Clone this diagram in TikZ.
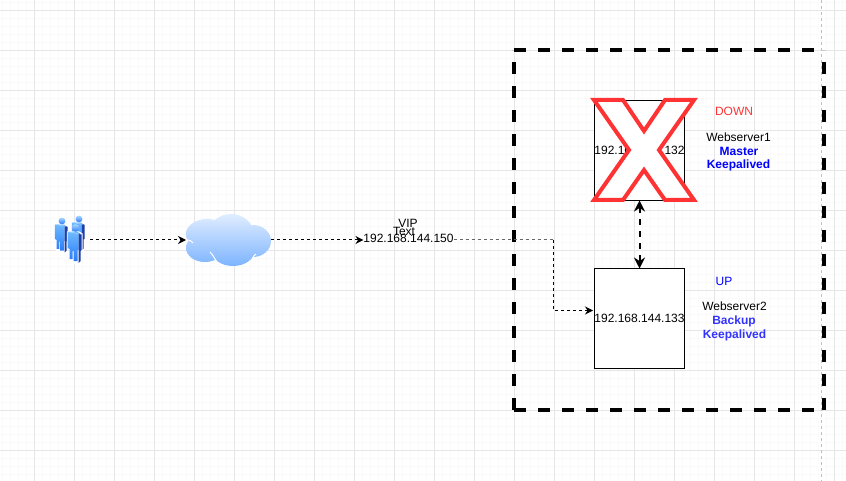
\documentclass[tikz,border=0pt]{standalone}
\usepackage{fontspec}
\setmainfont{Liberation Sans}
\usetikzlibrary{arrows.meta}
\definecolor{gridminor}{HTML}{FAFAFA}
\definecolor{gridmajor}{HTML}{E6E6E6}
\definecolor{downred}{HTML}{FF3333}
\definecolor{upblue}{HTML}{3333FF}
\definecolor{cloudtop}{HTML}{E0EDFF}
\definecolor{cloudbot}{HTML}{7DB4FF}
\definecolor{bodylight}{HTML}{6DB9FF}
\definecolor{bodymid}{HTML}{2A7CFA}
\definecolor{bodydark}{HTML}{1C3FA8}
\tikzset{
  lbl/.style={inner sep=0, outer sep=0, font=\fontsize{12}{14}\selectfont},
  serverbox/.style={draw, line width=1pt, fill=white, minimum width=90pt, minimum height=100pt, inner sep=0, outer sep=0, font=\fontsize{12}{14}\selectfont},
  link/.style={line width=1pt, dash pattern=on 3pt off 3pt, -{Stealth[length=8pt, width=8pt]}},
  person/.pic={
    \fill [white] (-8.7, 3.3) -- (3.5, 3.3) -- (7, 5.5) -- (7, 23) -- (5.7, 24) -- (5.7, 36) -- (-2, 36) -- (-6.5, 33) -- (-6.5, 22) -- (-8.7, 20) -- cycle;
    \shade [top color=bodylight, bottom color=bodymid] (-8, 4) -- (3, 4) -- (3, 22) -- (2, 22) -- (2, 33) -- (-2, 33) -- (-2, 23) -- (-3, 23) -- (-3, 31) -- (-6, 31) -- (-6, 21) -- (-8, 20) -- cycle;
    \fill [bodydark] (3, 5) -- (6.2, 6.5) -- (6.2, 22) -- (5, 23) -- (5, 33) -- (3, 35) -- (3, 22) -- cycle;
    \fill [bodylight!60!white] (-8, 4) -- (-5, 3.6) -- (6.2, 6.5) -- (3, 6) -- cycle;
    \shade [top color=bodylight!60!white, bottom color=bodymid] (0, 0) circle [radius=3.8];
  }
}
\begin{document}
\begin{tikzpicture}[x=1pt, y=-1pt]
  \useasboundingbox (0, 0) rectangle (846, 481);
  \fill [white] (0, 0) rectangle (846, 481);

  % grid
  \foreach \x in {2.5, 10.5, ..., 842.5} \draw [gridminor, line width=1pt] (\x, 0) -- (\x, 481);
  \foreach \y in {2.5, 10.5, ..., 478.5} \draw [gridminor, line width=1pt] (0, \y) -- (846, \y);
  \foreach \x in {34.5, 74.5, ..., 834.5} \draw [gridmajor, line width=1pt] (\x, 0) -- (\x, 481);
  \foreach \y in {10.5, 50.5, ..., 450.5} \draw [gridmajor, line width=1pt] (0, \y) -- (846, \y);
  \draw [black!25, line width=1pt, dash pattern=on 3pt off 3pt] (821.5, 0) -- (821.5, 481);

  % users
  \pic [scale=0.9] at (79, 219) {person};
  \pic [scale=0.9] at (62, 221) {person};
  \pic at (75.5, 228) {person};
  \coordinate (users) at (90, 240);

  % cloud
  \shade [top color=cloudtop, bottom color=cloudbot]
    (207, 234) ellipse [x radius=21, y radius=15]
    (231, 235) ellipse [x radius=23, y radius=21]
    (253, 241) ellipse [x radius=18, y radius=16]
    (233, 250) ellipse [x radius=22, y radius=16]
    (205, 248) ellipse [x radius=19, y radius=14];
  \draw [white, line width=1pt] (186, 240) .. controls (190, 240) and (192, 241) .. (193, 243);
  \draw [white, line width=1pt] (210, 252) .. controls (213, 255) and (215, 259) .. (218, 264);
  \draw [white, line width=1pt] (256, 254) .. controls (254, 255) and (253, 257) .. (252, 260);
  \node (cloud) [minimum width=85pt, minimum height=52pt, inner sep=0, outer sep=0] at (228.5, 240) {};

  % vip
  \node (vip) [lbl, text height=9pt, text depth=4pt] at (408.5, 240) {192.168.144.150};
  \node (viplabel) [lbl] at (408, 223) {VIP};
  \node (viptext) [lbl] at (404, 231) {Text};

  % servers
  \draw [line width=4pt, dash pattern=on 12pt off 12pt]
    (514, 50) -- (824, 50) (514, 410) -- (824, 410) (514, 410) -- (514, 50) (824, 410) -- (824, 50);
  \node (web1) [serverbox] at (639.5, 150.5) {192.168.144.132};
  \node (web2) [serverbox] at (639.5, 318.5) {192.168.144.133};
  \draw [downred, fill=white, line width=4pt, miter limit=4]
    (594, 100) -- (623, 100) -- (644, 131) -- (665, 100) -- (694, 100) -- (659, 150)
    -- (694, 200) -- (665, 200) -- (644, 170) -- (623, 200) -- (594, 200) -- (629, 150) -- cycle;

  % connectors
  \draw [link] (users) -- (cloud.west);
  \draw [link] (cloud.east) -- (vip.west);
  \coordinate (bend) at (553.5, 240);
  \coordinate (web2in) at (593, 310.5);
  \draw [black!60, line width=1pt, dash pattern=on 3pt off 3pt] (vip.east) -- (bend);
  \draw [link] (bend) |- (web2in);
  \draw [line width=2pt, dash pattern=on 6pt off 6pt, {Stealth[length=11pt, width=11pt]}-{Stealth[length=11pt, width=11pt]}] (web1.south) -- (web2.north);

  % labels
  \node (down) [lbl, downred] at (734, 111) {DOWN};
  \node (name1) [lbl] at (738.5, 137) {Webserver1};
  \node (role1) [lbl, blue, font=\fontsize{12}{14}\selectfont\bfseries] at (739, 151) {Master};
  \node (keep1) [lbl, blue, font=\fontsize{12}{14}\selectfont\bfseries] at (738.5, 165) {Keepalived};
  \node (up) [lbl, blue] at (724, 281) {UP};
  \node (name2) [lbl] at (734.5, 306) {Webserver2};
  \node (role2) [lbl, upblue, font=\fontsize{12}{14}\selectfont\bfseries] at (734, 321) {Backup};
  \node (keep2) [lbl, upblue, font=\fontsize{12}{14}\selectfont\bfseries] at (734.5, 335) {Keepalived};
\end{tikzpicture}
\end{document}
